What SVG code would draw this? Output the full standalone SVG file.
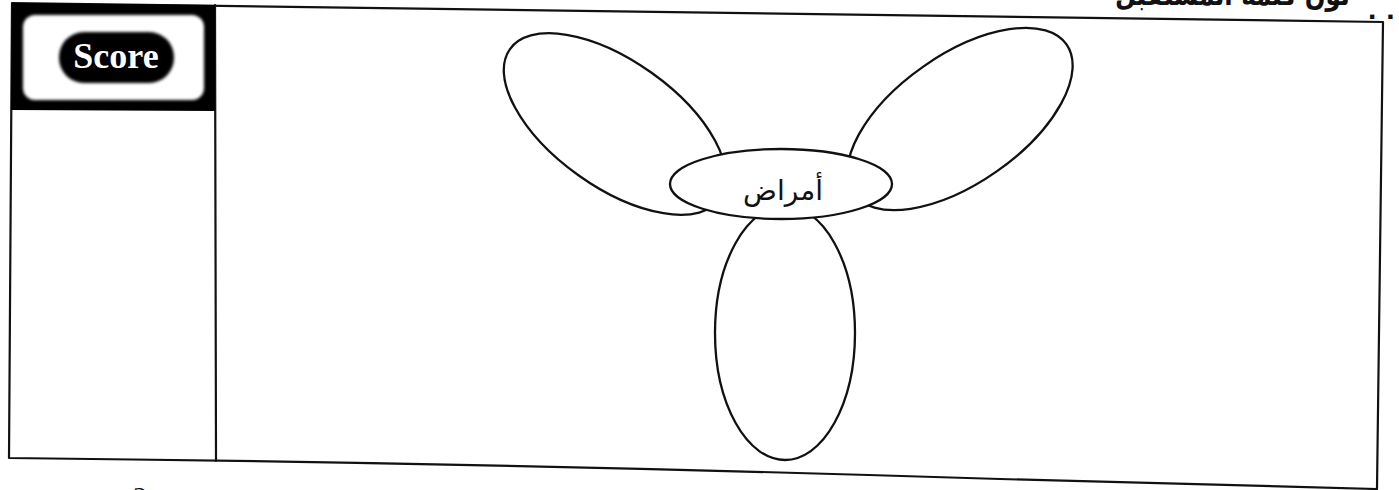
<svg xmlns="http://www.w3.org/2000/svg" width="1399" height="490" viewBox="0 0 1399 490">
<style>
.line{fill:none;stroke:#111;stroke-width:2.2;stroke-linecap:round;stroke-linejoin:round}
.petal{fill:#fff;stroke:#111;stroke-width:2.3}
.ar{font-family:"DejaVu Sans",sans-serif;fill:#111}
</style>
<defs>
<filter id="fuzz" x="-10%" y="-10%" width="120%" height="120%">
<feGaussianBlur stdDeviation="1.6"/>
</filter>
</defs>
<rect width="1399" height="490" fill="#fff"/>
<g id="header">
<text class="ar" x="1350" y="5" font-size="30" font-weight="bold" text-anchor="end" textLength="235" lengthAdjust="spacingAndGlyphs">لون كلمة المستقبل</text>
<text x="1368" y="19" font-family="Liberation Sans, sans-serif" font-size="30" font-weight="bold" fill="#111" letter-spacing="10">..</text>
</g>
<g id="frame">
<path class="line" d="M12,3 L1383,22 L1377,489 M12,3 L9,458 Q500,463 1000,479 Q1250,486 1377,489"/>
<path class="line" d="M215,5 L216,461"/>
</g>
<g id="score">
<polygon points="12,3 215,5 215,111 11,110" fill="#000"/>
<rect x="23" y="15" width="181" height="85" rx="12" fill="#fff" filter="url(#fuzz)"/>
<rect x="59" y="32" width="115" height="51" rx="25" fill="#000" filter="url(#fuzz)"/>
<text x="116" y="68" font-family="Liberation Serif, serif" font-size="36" font-weight="bold" fill="#fff" text-anchor="middle">Score</text>
</g>
<g id="petal-upper-left">
<ellipse class="petal" cx="615" cy="124" rx="129" ry="63" transform="rotate(35.5 615 124)"/>
</g>
<g id="petal-upper-right">
<ellipse class="petal" cx="960" cy="119" rx="130" ry="64" transform="rotate(-35 960 119)"/>
</g>
<g id="petal-bottom">
<ellipse class="petal" cx="785" cy="333" rx="70" ry="127"/>
</g>
<g id="center">
<ellipse class="petal" cx="781" cy="184" rx="111" ry="35"/>
<text class="ar" x="783" y="200" font-size="28" text-anchor="middle">أمراض</text>
</g>
<g id="footer">
<text x="140" y="506" font-family="Liberation Serif, serif" font-size="28" fill="#111" text-anchor="middle">2</text>
</g>
</svg>
